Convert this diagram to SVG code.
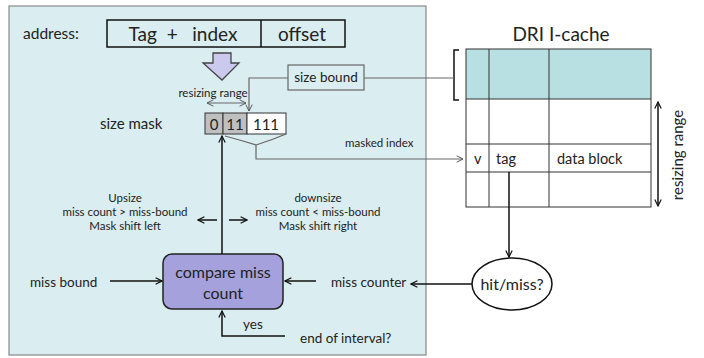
<svg xmlns="http://www.w3.org/2000/svg" width="704" height="358" viewBox="0 0 704 358">
<defs>
<style>
text{font-family:Lato,"Open Sans","Liberation Sans",sans-serif;fill:#222}
.s{font-size:11.5px}
.m{font-size:13.5px}
.l{font-size:19px}
.ln{fill:none;stroke:#111;stroke-width:1.5}
.gl{fill:none;stroke:#666;stroke-width:1.2}
.cell{stroke:#333;stroke-width:1}
</style>
<marker id="ah" viewBox="0 0 10 10" refX="9" refY="5" markerWidth="8" markerHeight="8" orient="auto-start-reverse" markerUnits="userSpaceOnUse">
<path d="M1,1 L9,5 L1,9" fill="none" stroke="#111" stroke-width="1.5"/>
</marker>
<marker id="ahg" viewBox="0 0 10 10" refX="9" refY="5" markerWidth="8" markerHeight="8" orient="auto-start-reverse" markerUnits="userSpaceOnUse">
<path d="M1,1 L9,5 L1,9" fill="none" stroke="#555" stroke-width="1.2"/>
</marker>
</defs>
<rect width="704" height="358" fill="#fff"/>
<g id="panel">
<rect x="9" y="6" width="417" height="349" fill="#daedf0" stroke="#888" stroke-width="1.2"/>
</g>
<g id="address">
<text x="23" y="39" font-size="15.5">address:</text>
<rect x="107" y="20" width="238" height="27" fill="none" stroke="#111" stroke-width="1.5"/>
<line x1="261" y1="20" x2="261" y2="47" stroke="#111" stroke-width="1.5"/>
<text x="183" y="41" class="l" text-anchor="middle" xml:space="preserve">Tag  +   index</text>
<text x="302" y="41" class="l" text-anchor="middle">offset</text>
</g>
<g id="bigarrow">
<path d="M213,53 H231 V63 H239 L222,80 L203,63 H213 Z" fill="#ccc9ef" stroke="#444" stroke-width="1.3"/>
</g>
<g id="sizebound">
<rect x="288" y="65" width="76" height="25" fill="#daedf0" stroke="#666" stroke-width="1.2"/>
<text x="326" y="82" font-size="13.5" text-anchor="middle">size bound</text>
</g>
<g id="sizemask">
<text x="100" y="129" font-size="15">size mask</text>
<rect x="205" y="113" width="18" height="21" fill="#bfbfbf" class="cell"/>
<rect x="223" y="113" width="24" height="21" fill="#bfbfbf" class="cell"/>
<rect x="247" y="113" width="39" height="21" fill="#fff" class="cell"/>
<text x="214" y="129.5" font-size="15" text-anchor="middle">0</text>
<text x="235" y="129.5" font-size="15" text-anchor="middle">11</text>
<text x="266" y="129.5" font-size="15" text-anchor="middle">111</text>
<text x="213" y="97" font-size="11.5" text-anchor="middle">resizing range</text>
</g>
<g id="compare">
<rect x="163" y="254" width="120" height="55" rx="9" fill="#a4a1dd" stroke="#222" stroke-width="1.5"/>
<text x="223" y="278" font-size="16" text-anchor="middle">compare miss</text>
<text x="223" y="299" font-size="16" text-anchor="middle">count</text>
</g>
<g id="labels">
<text x="125" y="202" class="s" text-anchor="middle">Upsize</text>
<text x="125" y="216" class="s" text-anchor="middle">miss count &gt; miss-bound</text>
<text x="125" y="230" class="s" text-anchor="middle">Mask shift left</text>
<text x="318" y="202" class="s" text-anchor="middle">downsize</text>
<text x="318" y="216" class="s" text-anchor="middle">miss count &lt; miss-bound</text>
<text x="318" y="230" class="s" text-anchor="middle">Mask shift right</text>
<text x="30" y="287" class="m">miss bound</text>
<text x="331" y="287" class="m">miss counter</text>
<text x="243" y="329" class="m">yes</text>
<text x="300" y="343" class="m">end of interval?</text>
<text x="345" y="147" class="s">masked index</text>
</g>
<g id="cache">
<text x="561" y="41" font-size="19" text-anchor="middle">DRI I-cache</text>
<rect x="466" y="49" width="185" height="50" fill="#b8dfe1"/>
<g stroke="#333" stroke-width="1">
<rect x="466" y="49" width="185" height="158" fill="none"/>
<line x1="489" y1="49" x2="489" y2="207"/>
<line x1="549" y1="49" x2="549" y2="207"/>
<line x1="466" y1="99" x2="651" y2="99"/>
<line x1="466" y1="144" x2="651" y2="144"/>
<line x1="466" y1="172" x2="651" y2="172"/>
</g>
<text x="474" y="164" font-size="14.5">v</text>
<text x="496" y="164" font-size="14.5">tag</text>
<text x="557" y="164" font-size="14.5">data block</text>
<path d="M459,50 H454 V100 H459" fill="none" stroke="#111" stroke-width="1.5"/>
<text transform="translate(683,155) rotate(-90)" font-size="15" text-anchor="middle">resizing range</text>
</g>
<g id="hitmiss">
<ellipse cx="512" cy="284" rx="40" ry="26" fill="#fff" stroke="#111" stroke-width="1.5"/>
<text x="512" y="290" font-size="16" text-anchor="middle">hit/miss?</text>
</g>
<g id="connectors">
<path class="gl" d="M288,78 H249 V111" marker-end="url(#ahg)"/>
<path class="gl" d="M364,78 H454"/>
<path class="gl" d="M207,103 H246" marker-start="url(#ahg)" marker-end="url(#ahg)"/>
<path class="gl" d="M225,136 Q240,140 256,145 Q272,140 286,134"/>
<path class="gl" d="M256,145 V159 H463" marker-end="url(#ahg)"/>
<path class="ln" d="M222,254 V136" marker-end="url(#ah)"/>
<path class="ln" d="M217,220 H198" marker-end="url(#ah)"/>
<path class="ln" d="M229,220 H247" marker-end="url(#ah)"/>
<path class="ln" d="M110,281 H162" marker-end="url(#ah)"/>
<path class="ln" d="M316,281 H285" marker-end="url(#ah)"/>
<path class="ln" d="M472,284 H411" marker-end="url(#ah)"/>
<path class="ln" d="M509,172 V257" marker-end="url(#ah)"/>
<path class="ln" d="M285,336 H222 V311" marker-end="url(#ah)"/>
<path class="ln" d="M658,102 V206" marker-start="url(#ah)" marker-end="url(#ah)"/>
</g>
</svg>
